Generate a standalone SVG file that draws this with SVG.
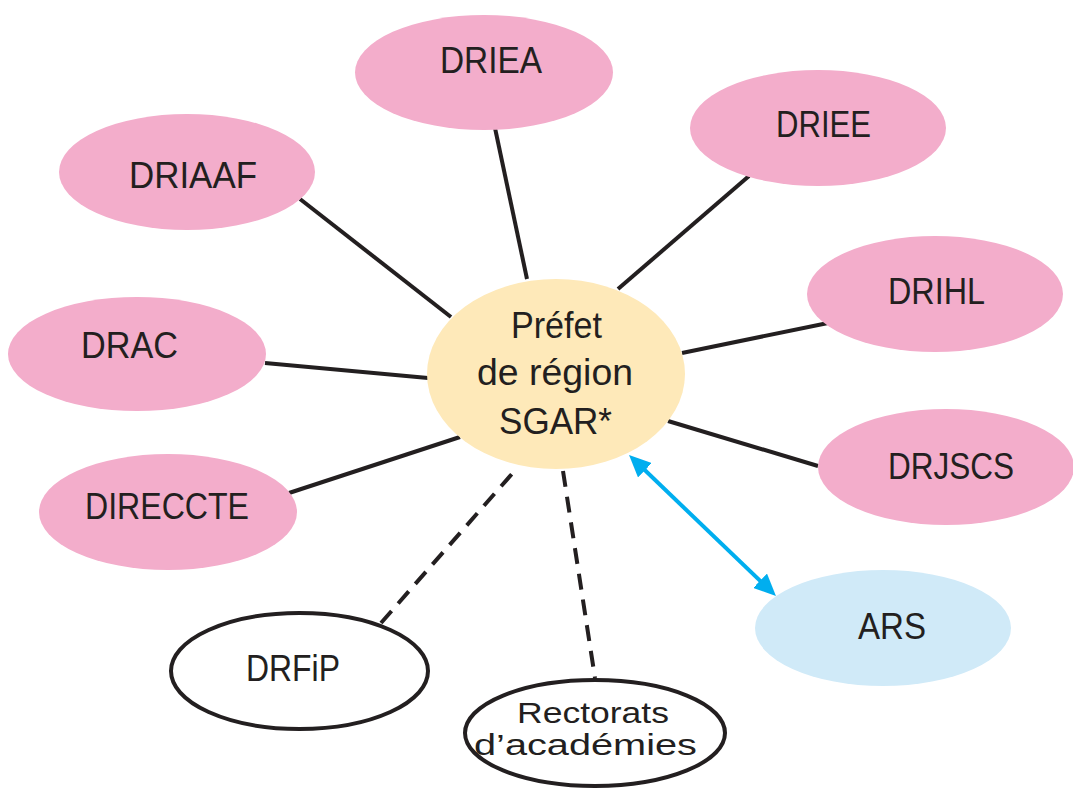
<svg xmlns="http://www.w3.org/2000/svg" width="1073" height="791" viewBox="0 0 1073 791">
<style>
.pink{fill:#f3adcb;stroke:none}
.center{fill:#fee9b9;stroke:none}
.blue{fill:#d0eaf8;stroke:none}
.outline{fill:#ffffff;stroke:#231f20;stroke-width:4}
.link{stroke:#231f20;stroke-width:4;fill:none}
.dash{stroke:#231f20;stroke-width:4;fill:none;stroke-dasharray:16 10}
.arrow{stroke:#00aeef;stroke-width:4;fill:none}
text{font-family:"Liberation Sans",Arial,sans-serif;fill:#231f20;font-size:37px}
.small{font-size:29px}
</style>
<defs>
<marker id="ah" viewBox="0 0 22 20" refX="10" refY="10" markerWidth="22" markerHeight="20" markerUnits="userSpaceOnUse" orient="auto-start-reverse">
<path d="M0,0 L22,10 L0,20 z" fill="#00aeef"/>
</marker>
</defs>
<rect width="1073" height="791" fill="#ffffff"/>
<g id="connectors">
<line class="link" x1="300" y1="199" x2="451" y2="317"/>
<line class="link" x1="495" y1="128" x2="527" y2="279"/>
<line class="link" x1="265" y1="363" x2="428" y2="378"/>
<line class="link" x1="749" y1="176" x2="618" y2="289"/>
<line class="link" x1="828" y1="323" x2="682" y2="353"/>
<line class="link" x1="668" y1="421" x2="818" y2="466"/>
<line class="link" x1="289" y1="493" x2="460" y2="437"/>
<line class="dash" x1="381" y1="623" x2="518" y2="467"/>
<line class="dash" x1="563" y1="471" x2="595" y2="678"/>
<line class="arrow" x1="637.7" y1="463.3" x2="767.3" y2="587.7" marker-start="url(#ah)" marker-end="url(#ah)"/>
</g>
<g id="node-prefet">
<ellipse class="center" cx="556" cy="374" rx="129" ry="95"/>
<text x="511" y="338" textLength="91" lengthAdjust="spacingAndGlyphs">Préfet</text>
<text x="477" y="385" textLength="156" lengthAdjust="spacingAndGlyphs">de région</text>
<text x="499" y="434" textLength="113" lengthAdjust="spacingAndGlyphs">SGAR*</text>
</g>
<g id="node-driea">
<ellipse class="pink" cx="484" cy="72.5" rx="129" ry="57.5"/>
<text x="440" y="73" textLength="102" lengthAdjust="spacingAndGlyphs">DRIEA</text>
</g>
<g id="node-driaaf">
<ellipse class="pink" cx="187" cy="172" rx="128" ry="58"/>
<text x="129" y="188" textLength="128" lengthAdjust="spacingAndGlyphs">DRIAAF</text>
</g>
<g id="node-drac">
<ellipse class="pink" cx="137" cy="354" rx="129" ry="57"/>
<text x="81" y="358" textLength="97" lengthAdjust="spacingAndGlyphs">DRAC</text>
</g>
<g id="node-direccte">
<ellipse class="pink" cx="168" cy="512" rx="129" ry="58"/>
<text x="85" y="519" textLength="164" lengthAdjust="spacingAndGlyphs">DIRECCTE</text>
</g>
<g id="node-driee">
<ellipse class="pink" cx="818" cy="128" rx="128" ry="58"/>
<text x="776" y="137" textLength="95" lengthAdjust="spacingAndGlyphs">DRIEE</text>
</g>
<g id="node-drihl">
<ellipse class="pink" cx="935" cy="294" rx="128" ry="58"/>
<text x="888" y="304" textLength="97" lengthAdjust="spacingAndGlyphs">DRIHL</text>
</g>
<g id="node-drjscs">
<ellipse class="pink" cx="946" cy="467" rx="128" ry="58"/>
<text x="888" y="479" textLength="126" lengthAdjust="spacingAndGlyphs">DRJSCS</text>
</g>
<g id="node-ars">
<ellipse class="blue" cx="883" cy="628" rx="128" ry="58"/>
<text x="858" y="639" textLength="68" lengthAdjust="spacingAndGlyphs">ARS</text>
</g>
<g id="node-drfip">
<ellipse class="outline" cx="299.5" cy="671" rx="128.5" ry="58"/>
<text x="246" y="681" textLength="94" lengthAdjust="spacingAndGlyphs">DRFiP</text>
</g>
<g id="node-rectorats">
<ellipse class="outline" cx="595" cy="733" rx="130" ry="53"/>
<text class="small" x="517" y="723" textLength="152" lengthAdjust="spacingAndGlyphs">Rectorats</text>
<text class="small" x="474" y="755" textLength="223" lengthAdjust="spacingAndGlyphs">d’académies</text>
</g>
</svg>
